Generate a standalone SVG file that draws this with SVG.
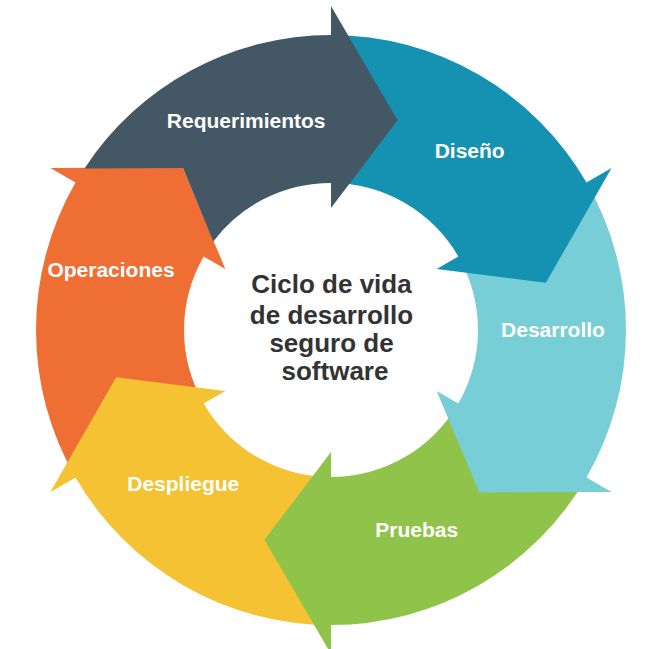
<svg xmlns="http://www.w3.org/2000/svg" width="663" height="649" viewBox="0 0 663 649">
<style>
.lbl{font-family:"Liberation Sans",Arial,sans-serif;font-weight:bold;font-size:21px;fill:#ffffff;text-anchor:middle}
.ctr{font-family:"Liberation Sans",Arial,sans-serif;font-weight:bold;font-size:26px;fill:#333333;text-anchor:middle}
</style>
<rect width="663" height="649" fill="#ffffff"/>
<g id="operaciones">
<path fill="#ee6e34" d="M 75.52 477.5 A 295 295 0 0 1 75.52 182.5 L 50.41 168 L 182.65 167.54 L 225.34 269 L 203.69 256.5 A 147 147 0 0 0 203.69 403.5 Z"/>
<text class="lbl" x="111" y="276.5">Operaciones</text>
</g>
<g id="despliegue">
<path fill="#f4c232" d="M 331 625 A 295 295 0 0 1 75.52 477.5 L 50.41 492 L 116.13 377.24 L 225.34 391 L 203.69 403.5 A 147 147 0 0 0 331 477 Z"/>
<text class="lbl" x="183.3" y="491">Despliegue</text>
</g>
<g id="pruebas">
<path fill="#90c34a" d="M 586.48 477.5 A 295 295 0 0 1 331 625 L 331 654 L 264.48 539.7 L 331 452 L 331 477 A 147 147 0 0 0 458.31 403.5 Z"/>
<text class="lbl" x="416.7" y="537.3">Pruebas</text>
</g>
<g id="desarrollo">
<path fill="#77ced6" d="M 586.48 182.5 A 295 295 0 0 1 586.48 477.5 L 611.59 492 L 479.35 492.46 L 436.66 391 L 458.31 403.5 A 147 147 0 0 0 458.31 256.5 Z"/>
<text class="lbl" x="553" y="337">Desarrollo</text>
</g>
<g id="diseno">
<path fill="#1592b2" d="M 331 35 A 295 295 0 0 1 586.48 182.5 L 611.59 168 L 545.87 282.76 L 436.66 269 L 458.31 256.5 A 147 147 0 0 0 331 183 Z"/>
<text class="lbl" x="469.7" y="158">Diseño</text>
</g>
<g id="requerimientos">
<path fill="#435764" d="M 84.52 168.4 A 295 295 0 0 1 331 35 L 331 6 L 397.52 120.3 L 331 208 L 331 183 A 147 147 0 0 0 213.3 241.5 L 183 168.1 Z"/>
<text class="lbl" x="246.2" y="127.6">Requerimientos</text>
</g>
<g id="centro">
<text class="ctr" x="331.5" y="293">Ciclo de vida</text>
<text class="ctr" x="331.5" y="324.3">de desarrollo</text>
<text class="ctr" x="331.5" y="352">seguro de</text>
<text class="ctr" x="335" y="379.6">software</text>
</g>
<g id="connectors"></g>
</svg>
